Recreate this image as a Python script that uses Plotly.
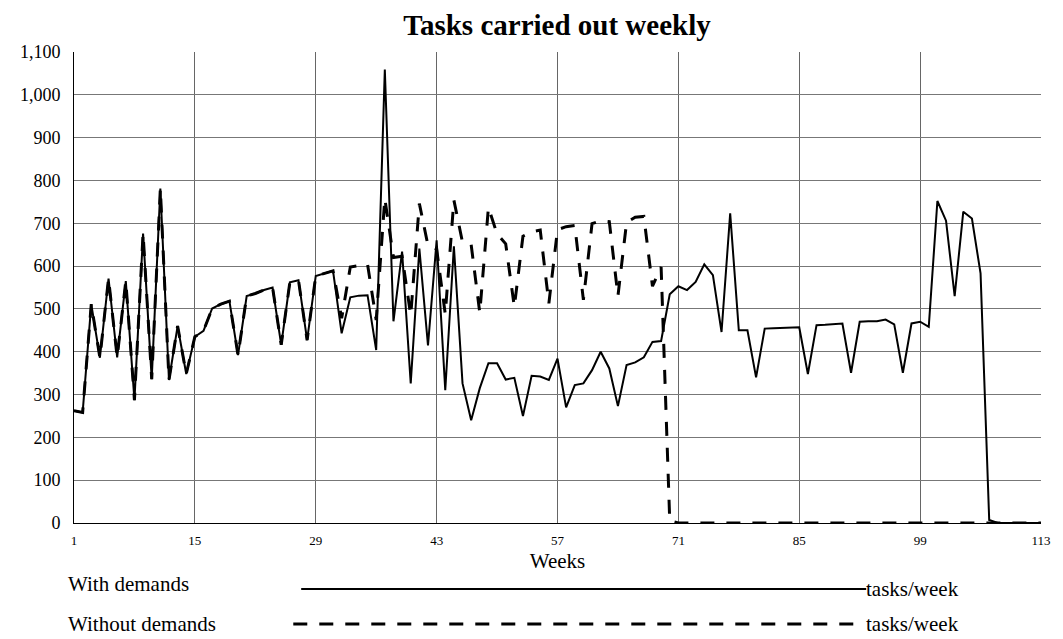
import plotly.graph_objects as go

weeks = list(range(1, 114))

with_demands = [
    262, 258, 511, 386, 571, 387, 565, 287, 676, 336,
    781, 334, 460, 348, 435, 449, 501, 511, 518, 392,
    530, 536, 544, 550, 416, 562, 567, 427, 577, 583,
    589, 443, 527, 531, 532, 404, 1059, 471, 634, 326,
    641, 415, 660, 310, 646, 326, 240, 315, 373, 373,
    335, 339, 250, 344, 342, 334, 384, 270, 322, 326,
    357, 400, 361, 273, 369, 375, 387, 423, 425, 534,
    553, 544, 563, 604, 579, 446, 723, 450, 450, 340,
    454, 455, 456, 457, 457, 348, 462, 463, 464, 466,
    351, 470, 471, 471, 475, 464, 351, 466, 470, 458,
    752, 706, 530, 727, 711, 583, 7, 0, 0, 0,
    0, 0, 0,
]

without_demands = [
    262, 258, 511, 386, 571, 387, 565, 287, 676, 336,
    781, 334, 460, 348, 435, 449, 501, 511, 518, 392,
    530, 536, 544, 550, 416, 562, 567, 427, 577, 583,
    589, 478, 598, 601, 604, 474, 758, 620, 623, 485,
    746, 648, 640, 488, 754, 655, 650, 491, 737, 675,
    652, 505, 670, 680, 684, 513, 685, 692, 695, 521,
    699, 706, 704, 530, 702, 714, 716, 553, 598, 5,
    0, 0, 0, 0, 0, 0, 0, 0, 0, 0,
    0, 0, 0, 0, 0, 0, 0, 0, 0, 0,
    0, 0, 0, 0, 0, 0, 0, 0, 0, 0,
    0, 0, 0, 0, 0, 0, 0, 0, 0, 0,
    0, 0, 0,
]

x_ticks = [1, 15, 29, 43, 57, 71, 85, 99, 113]
series_names = ["With demands", "Without demands"]
unit = "tasks/week"

FONT = "Liberation Serif, Times New Roman, serif"
DASH = "14px,12px"

# the page body adds an 8px margin, so the figure is 8px smaller than the window
W, H = 1055, 631
ML, MT, MR, MB = 59, 44, 17, 116
PW, PH = W - ML - MR, H - MT - MB


def px(x_abs):
    return (x_abs - 8 - ML) / PW


def py(y_abs):
    return (H - MB - (y_abs - 8)) / PH


fig = go.Figure()
fig.add_trace(go.Scatter(
    x=weeks, y=with_demands, mode="lines", name=series_names[0],
    line=dict(color="black", width=2),
))
fig.add_trace(go.Scatter(
    x=weeks, y=without_demands, mode="lines", name=series_names[1],
    line=dict(color="black", width=3, dash=DASH),
))

# Vensim-style legend under the plot
fig.add_shape(type="line", xref="paper", yref="paper",
              x0=px(297), x1=px(869), y0=py(589), y1=py(589),
              line=dict(color="black", width=2))
fig.add_shape(type="line", xref="paper", yref="paper",
              x0=px(289), x1=px(866), y0=py(624), y1=py(624),
              line=dict(color="black", width=3, dash=DASH))
legend_rows = [(series_names[0], 584, 589), (series_names[1], 624, 624)]
for name, y_name, y_unit in legend_rows:
    fig.add_annotation(text=name, xref="paper", yref="paper", x=px(59), y=py(y_name),
                       xanchor="left", yanchor="middle", showarrow=False,
                       font=dict(size=21, color="black", family=FONT))
    fig.add_annotation(text=unit, xref="paper", yref="paper", x=px(867), y=py(y_unit),
                       xanchor="left", yanchor="middle", showarrow=False,
                       font=dict(size=21, color="black", family=FONT))

fig.update_layout(
    width=W, height=H,
    margin=dict(l=ML, r=MR, t=MT, b=MB),
    paper_bgcolor="white", plot_bgcolor="white",
    showlegend=False,
    font=dict(family=FONT, color="black"),
    title=dict(text="<b>Tasks carried out weekly</b>", x=(557 - 8) / W, xanchor="center",
               y=1 - (25 - 8) / H, yanchor="middle", font=dict(size=29, family=FONT)),
)
fig.update_xaxes(
    range=[1, 113], tickvals=x_ticks, showgrid=True, gridcolor="#666666", gridwidth=1,
    showline=True, linecolor="black", linewidth=1, zeroline=False,
    ticks="outside", ticklen=5, tickcolor="rgba(0,0,0,0)",
    tickfont=dict(size=13, family=FONT),
    title=dict(text="Weeks", font=dict(size=21, family=FONT), standoff=6),
)
fig.update_yaxes(
    range=[0, 1100], dtick=100, tickformat=",", showgrid=True, gridcolor="#777777",
    gridwidth=1, showline=True, linecolor="black", linewidth=1, zeroline=False,
    ticks="outside", ticklen=9, tickcolor="rgba(0,0,0,0)",
    tickfont=dict(size=18, family=FONT),
)

fig.write_html("out.html")
